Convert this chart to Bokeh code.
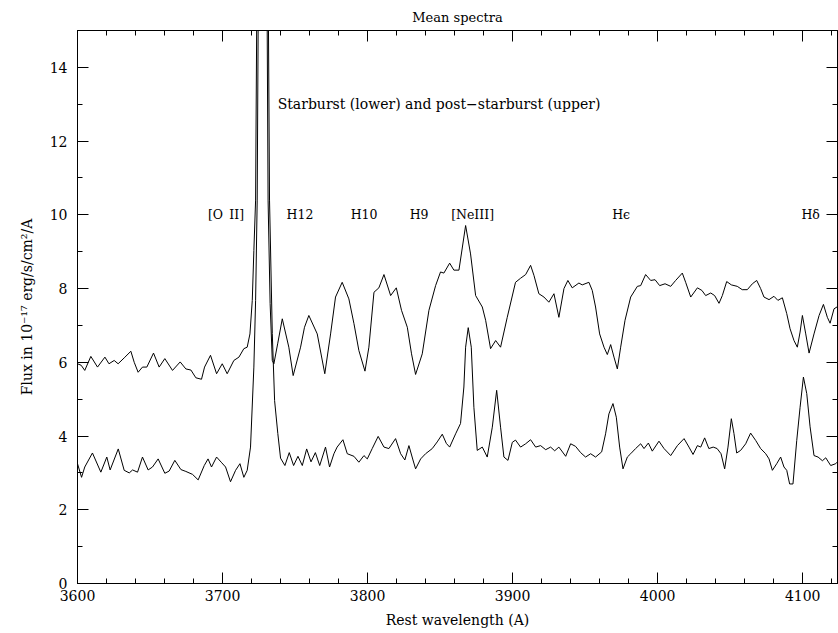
from bokeh.plotting import figure
from bokeh.models import (Range1d, LinearAxis, SingleIntervalTicker, Label,
                          ColumnDataSource, CustomJSTickFormatter)
from bokeh.core.properties import value
from bokeh.embed import file_html
from bokeh.resources import INLINE

# ---------------- data ----------------
upper_wl = [3600, 3602.5, 3605, 3609.2, 3613.8, 3618.9, 3621.7, 3625.3, 3628, 3632.2,
            3636.8, 3639.1, 3641.8, 3644.8, 3647.8, 3652.4, 3656.3, 3660.2, 3665.5, 3670.8,
            3674.7, 3678.2, 3681.6, 3685.5, 3687.6, 3691.7, 3695.9, 3699.8, 3703.2, 3707.8,
            3711.3, 3714.7, 3717, 3718.9, 3720.5, 3721.6, 3722.8, 3723.6, 3725.5, 3727.5,
            3729.5, 3730.8, 3731.4, 3732.8, 3734.3, 3735.4, 3738, 3741.2, 3745.7, 3748.7,
            3753.8, 3756.5, 3759.5, 3765.3, 3770.5, 3774.5, 3777.9, 3782.5, 3787.1, 3790.6,
            3794, 3798.2, 3800.9, 3804.4, 3807.8, 3811.3, 3815.9, 3819.8, 3823.4, 3827.4,
            3830.3, 3833.1, 3837.7, 3842.3, 3846.9, 3850.3, 3852.6, 3856.6, 3859.5, 3863,
            3867.6, 3871, 3874.5, 3879.1, 3881.4, 3884.8, 3888.3, 3891.7, 3896.3, 3902,
            3905.5, 3909, 3912.4, 3914.7, 3918.1, 3921.6, 3925, 3928.5, 3931.9, 3935.4,
            3938.1, 3941.1, 3945.7, 3948, 3952.6, 3954.9, 3957.2, 3960, 3963, 3965.3,
            3967.6, 3969.9, 3972.2, 3974.5, 3977.5, 3981.4, 3986, 3988.3, 3991.7, 3995.2,
            3998.2, 4001.4, 4005.1, 4009, 4012.4, 4017, 4019.3, 4022.8, 4027.4, 4030.5,
            4033.1, 4036.6, 4039.3, 4042.3, 4044.6, 4047.6, 4050.8, 4054.9, 4058.3, 4061.8,
            4065.3, 4068.3, 4071, 4073.3, 4076.8, 4080.2, 4082.9, 4086, 4089, 4091.3,
            4094, 4096.3, 4098.2, 4099.8, 4102.1, 4104.4, 4107.8, 4111.3, 4114.3, 4117,
            4118.9, 4121.6, 4124]
upper_flux = [5.96, 5.92, 5.78, 6.16, 5.87, 6.14, 5.96, 6.05, 5.96, 6.12,
              6.30, 6.0, 5.73, 5.87, 5.87, 6.25, 5.87, 6.10, 5.78, 6.01,
              5.82, 5.79, 5.58, 5.54, 5.87, 6.19, 5.69, 5.96, 5.69, 6.05,
              6.14, 6.37, 6.41, 6.77, 7.68, 9.03, 10.4, 15.5, 22, 25,
              22, 15, 10.4, 7.6, 6.05, 5.96, 6.5, 7.18, 6.41, 5.64,
              6.41, 6.95, 7.27, 6.77, 5.69, 6.77, 7.77, 8.17, 7.72, 7.05,
              6.32, 5.76, 6.41, 7.90, 8.02, 8.38, 7.81, 8.02, 7.41, 6.95,
              6.23, 5.67, 6.23, 7.41, 8.08, 8.45, 8.42, 8.69, 8.50, 8.50,
              9.71, 8.94, 7.81, 7.50, 7.14, 6.37, 6.59, 6.41, 7.22, 8.17,
              8.28, 8.38, 8.63, 8.36, 7.86, 7.77, 7.63, 7.86, 7.22, 8.0,
              8.22, 8.02, 8.15, 8.1, 8.17, 7.95, 7.5, 6.77, 6.41, 6.21,
              6.48, 6.14, 5.82, 6.41, 7.14, 7.77, 8.06, 8.08, 8.38, 8.22,
              8.24, 8.08, 8.13, 8.06, 8.22, 8.42, 8.17, 7.77, 8.02, 7.95,
              7.81, 7.88, 7.81, 7.60, 7.81, 8.19, 8.1, 8.06, 7.97, 7.97,
              8.13, 8.22, 8.0, 7.77, 7.70, 7.79, 7.68, 7.75, 7.32, 6.91,
              6.59, 6.41, 6.82, 7.27, 6.77, 6.25, 6.77, 7.27, 7.57, 7.22,
              7.06, 7.45, 7.51]

lower_wl = [3600, 3602.8, 3605, 3610.3, 3616.1, 3620.2, 3622.5, 3628.1, 3632.2, 3635.7,
            3638, 3641.4, 3644.8, 3648.7, 3651.7, 3655.6, 3660.2, 3663.2, 3667.1, 3671.3,
            3674.7, 3679.3, 3683.2, 3687.4, 3690, 3692.4, 3695.9, 3699.1, 3702.1, 3705.5,
            3709, 3712, 3714.7, 3717, 3719.3, 3721.6, 3722.8, 3723.9, 3724.6, 3726,
            3728, 3730, 3731.6, 3732.4, 3734.3, 3735.9, 3738.1, 3740, 3743, 3746,
            3749, 3752, 3755, 3758, 3761, 3764, 3767, 3771, 3773.8, 3776.8,
            3779, 3783, 3786, 3790.6, 3794, 3797.5, 3799.8, 3803.2, 3807.3, 3811.3,
            3814.7, 3819.3, 3822.8, 3825.7, 3828.5, 3831.3, 3833.1, 3836.6, 3840, 3844.6,
            3848, 3851.5, 3854.3, 3856.6, 3860.7, 3864.1, 3866.4, 3867.6, 3869.4, 3871.5,
            3873.3, 3875.6, 3879.1, 3882.5, 3886, 3889, 3891.7, 3894, 3896.8, 3899.8,
            3902, 3905.5, 3909, 3912.4, 3915.9, 3919.3, 3922.8, 3926.2, 3929, 3931.9,
            3936.6, 3940, 3943.4, 3946.9, 3950.3, 3953.8, 3957.2, 3961.4, 3964.1, 3966.4,
            3969.2, 3971.5, 3973.8, 3976.1, 3979.1, 3981.4, 3984.8, 3988.3, 3990.6, 3993.6,
            3996.3, 4000.9, 4004.4, 4009, 4013.6, 4018.2, 4021.6, 4024.4, 4027.4, 4029.7,
            4032.4, 4035.3, 4038.3, 4041, 4043.7, 4046.2, 4048.5, 4050.8, 4052.6, 4054.5,
            4057.2, 4060.7, 4064.1, 4067.6, 4071, 4074.5, 4076.8, 4079.1, 4082.1, 4084.8,
            4087.1, 4089, 4091, 4093.3, 4095.9, 4098.2, 4100.5, 4102.8, 4105.1, 4107.8,
            4110.6, 4113.6, 4115.9, 4119.3, 4122.8, 4124]
lower_flux = [3.25, 2.88, 3.16, 3.54, 3.02, 3.43, 3.08, 3.65, 3.07, 3.0,
              3.08, 3.02, 3.43, 3.08, 3.16, 3.38, 2.99, 3.05, 3.34, 3.09,
              3.04, 2.96, 2.81, 3.2, 3.38, 3.16, 3.43, 3.29, 3.16, 2.76,
              3.07, 3.25, 2.88, 3.07, 3.70, 5.87, 7.68, 10.4, 15.5, 24,
              28, 24, 15.5, 10.4, 6.78, 4.96, 4.07, 3.4, 3.2, 3.55,
              3.2, 3.45, 3.2, 3.65, 3.3, 3.55, 3.2, 3.70, 3.16, 3.52,
              3.70, 3.90, 3.52, 3.45, 3.29, 3.47, 3.38, 3.66, 3.99, 3.70,
              3.66, 3.93, 3.52, 3.35, 3.74, 3.35, 3.11, 3.38, 3.52, 3.66,
              3.84, 4.05, 3.80, 3.70, 4.06, 4.34, 5.33, 6.41, 6.94, 6.41,
              4.78, 3.61, 3.70, 3.43, 4.24, 5.24, 4.24, 3.43, 3.34, 3.83,
              3.89, 3.70, 3.79, 3.90, 3.70, 3.74, 3.63, 3.70, 3.6, 3.70,
              3.45, 3.79, 3.72, 3.55, 3.43, 3.52, 3.43, 3.57, 4.06, 4.60,
              4.88, 4.51, 3.70, 3.11, 3.43, 3.52, 3.66, 3.79, 3.66, 3.81,
              3.59, 3.86, 3.66, 3.47, 3.74, 3.93, 3.70, 3.50, 3.74, 3.7,
              3.95, 3.66, 3.70, 3.66, 3.52, 3.11, 3.70, 4.47, 4.07, 3.54,
              3.61, 3.79, 4.08, 3.88, 3.66, 3.52, 3.38, 3.07, 3.25, 3.43,
              3.16, 3.07, 2.7, 2.7, 3.88, 4.78, 5.60, 5.15, 4.25, 3.47,
              3.43, 3.33, 3.41, 3.20, 3.25, 3.3]

line_names = ["[O\u2002II]", "H12", "H10", "H9", "[NeIII]", "H\u03f5", "H\u03b4"]
line_label_wl = [3702.4, 3753.4, 3797.6, 3835.5, 3872.4, 3974.8, 4105.5]
line_label_flux = [10.0, 10.0, 10.0, 10.0, 10.0, 10.0, 10.0]

x_ticks_major = 100
y_ticks_major = 2

FONT = "DejaVu Serif"

p = figure(width=838, height=633, output_backend="svg", toolbar_location=None,
           x_range=Range1d(3600, 4124), y_range=Range1d(0, 15),
           min_border_left=77, min_border_right=1, min_border_top=30,
           min_border_bottom=50)

p.title.text = "Mean spectra"
p.title.align = "center"
p.title.text_font = FONT
p.title.text_font_size = "13px"
p.title.text_font_style = "normal"
p.title.text_color = "black"
p.title.standoff = 12

p.xgrid.visible = False
p.ygrid.visible = False
p.outline_line_color = "black"
p.outline_line_width = 1
p.background_fill_color = "white"
p.border_fill_color = "white"

p.line(upper_wl, upper_flux, line_color="black", line_width=1)
p.line(lower_wl, lower_flux, line_color="black", line_width=1)

src = ColumnDataSource(dict(x=line_label_wl, y=line_label_flux, t=line_names))
p.text(x="x", y="y", text="t", source=src, text_align="center",
       text_baseline="middle", text_font=value(FONT), text_font_size="12.5px",
       text_color="black")

p.add_layout(Label(x=3738, y=13.0, text="Starburst (lower) and post\u2212starburst (upper)",
                   text_font=FONT, text_font_size="14px", text_baseline="middle",
                   text_color="black"))

xt = SingleIntervalTicker(interval=x_ticks_major, num_minor_ticks=5)
yt = SingleIntervalTicker(interval=y_ticks_major, num_minor_ticks=2)

bottom = p.xaxis[0]
left = p.yaxis[0]
bottom.ticker = xt
left.ticker = yt
bottom.axis_label = "Rest wavelength (A)"
left.axis_label = "Flux in 10\u207b\u00b9\u2077 erg/s/cm\u00b2/A"

top = LinearAxis(ticker=xt, formatter=CustomJSTickFormatter(code="return ''"))
right = LinearAxis(ticker=yt, formatter=CustomJSTickFormatter(code="return ''"))
p.add_layout(top, "above")
p.add_layout(right, "right")

for ax in [bottom, left, top, right]:
    ax.major_tick_in = 11
    ax.major_tick_out = 0
    ax.minor_tick_in = 5
    ax.minor_tick_out = 0
    ax.axis_line_color = "black"
    ax.major_tick_line_color = "black"
    ax.minor_tick_line_color = "black"
    ax.major_label_text_font = FONT
    ax.major_label_text_font_size = "14px"
    ax.major_label_text_color = "black"
    ax.axis_label_text_font = FONT
    ax.axis_label_text_font_size = "14px"
    ax.axis_label_text_font_style = "normal"
    ax.axis_label_text_color = "black"

for ax in [top, right]:
    ax.major_label_standoff = 0
    ax.major_label_text_font_size = "1px"

bottom.major_label_standoff = 6
bottom.axis_label_standoff = 8
left.major_label_standoff = 10
left.axis_label_standoff = 12

open("out.html", "w").write(file_html(p, INLINE))
